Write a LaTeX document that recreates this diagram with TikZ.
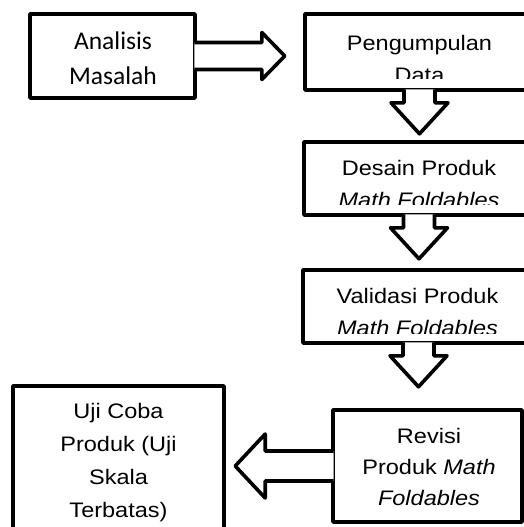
\documentclass[tikz,border=0pt]{standalone}
\usepackage{fontspec}
\setmainfont{Liberation Sans}[FakeStretch=1.12]
\newfontfamily\calibri{Carlito}
\usepackage{tikz}

\tikzset{
  downarrow/.pic={\path[blockarrow] (-15.5,-2.5) -- (-15.5,11) -- (-28.5,11) -- (0,42) -- (28.5,11) -- (15.5,11) -- (15.5,-2.5);},
  rightarrow/.pic={\path[blockarrow] (-2.5,-13.5) -- (65,-13.5) -- (65,-23.5) -- (88,0) -- (65,23.5) -- (65,13.5) -- (-2.5,13.5);},
  leftarrow/.pic={\path[blockarrow] (2.5,-15) -- (-66,-15) -- (-66,-32) -- (-96,0) -- (-66,32) -- (-66,15) -- (2.5,15);}
}

\begin{document}
\begin{tikzpicture}[x=1pt,y=-1pt,
  box/.style={draw, line width=3.6pt, line join=round, inner sep=0pt},
  boxtext/.style={align=center, anchor=base, inner sep=0pt, font=\fontsize{21}{32}\selectfont},
  blockarrow/.style={draw, fill=white, line width=3.6pt, line join=round}]
            \useasboundingbox (0,0) rectangle (524,527);
            \clip (0,0) rectangle (524,527);
            % boxes
            \node[box, minimum width=165pt, minimum height=84pt] (ana) at (112.5,56) {};
            \node[box, minimum width=229pt, minimum height=76pt] (peng) at (419.5,52) {};
            \node[box, minimum width=230pt, minimum height=73pt] (des) at (419,178.5) {};
            \node[box, minimum width=231pt, minimum height=73pt] (val) at (418.5,306.5) {};
            \node[box, minimum width=189pt, minimum height=112pt] (rev) at (427.5,466) {};
            \node[box, minimum width=211pt, minimum height=160pt] (uji) at (118.5,466) {};
            % texts (anchored at the baseline of the last line)
            \node[boxtext, font=\calibri\fontsize{25.5}{35}\selectfont] (anatxt) at (113,84) {Analisis\\Masalah};
            \begin{scope}
            \clip (peng.north west) rectangle (534,78);
            \node[boxtext] (pengtxt) at (419.5,82) {Pengumpulan\\Data};
            \end{scope}
            \begin{scope}
            \clip (des.north west) rectangle (534,204);
            \node[boxtext] (destxt) at (419,207) {Desain Produk\\\textit{Math Foldables}};
            \end{scope}
            \begin{scope}
            \clip (val.north west) rectangle (534,333);
            \node[boxtext] (valtxt) at (417.5,335) {Validasi Produk\\\textit{Math Foldables}};
            \end{scope}
            \node[boxtext, font=\fontsize{21}{31}\selectfont] (revtxt) at (429,505) {Revisi\\Produk \textit{Math}\\\textit{Foldables}};
            \node[boxtext, font=\fontsize{21}{33}\selectfont] (ujitxt) at (118.5,517) {Uji Coba\\Produk (Uji\\Skala\\Terbatas)};
            % arrows
            \pic at (ana.east) {rightarrow};
            \pic at (peng.south) {downarrow};
            \pic at (des.south) {downarrow};
            \pic at (val.south) {downarrow};
            \pic at (rev.west) {leftarrow};
\end{tikzpicture}
\end{document}
